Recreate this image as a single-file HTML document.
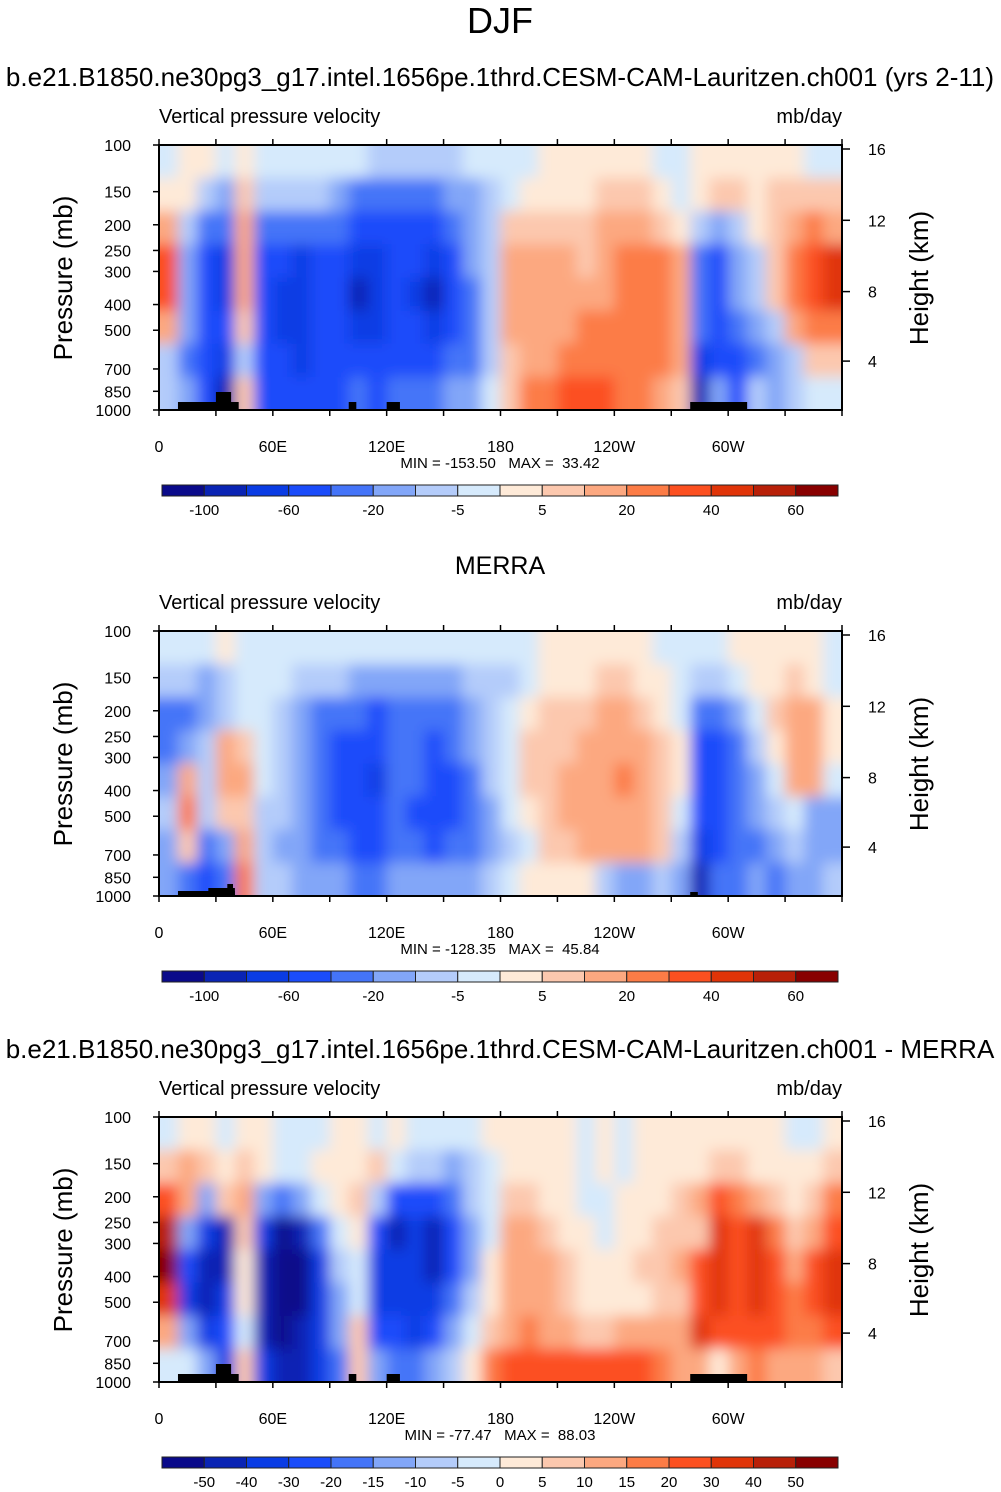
<!DOCTYPE html>
<html><head><meta charset="utf-8"><style>
html,body{margin:0;padding:0;background:#fff;}
svg{display:block;font-family:"Liberation Sans",sans-serif;}
</style></head><body>
<svg id="fig" width="1001" height="1492" xmlns="http://www.w3.org/2000/svg">
<defs>
<filter id="blur" filterUnits="userSpaceOnUse" x="0" y="0" width="1001" height="1492"><feGaussianBlur stdDeviation="7"/></filter>
</defs>
<text x="500" y="33" font-size="36" text-anchor="middle">DJF</text>
<text x="500" y="86" font-size="26" text-anchor="middle">b.e21.B1850.ne30pg3_g17.intel.1656pe.1thrd.CESM-CAM-Lauritzen.ch001 (yrs 2-11)</text>
<text x="500" y="574" font-size="25" text-anchor="middle">MERRA</text>
<text x="500" y="1058" font-size="26" text-anchor="middle">b.e21.B1850.ne30pg3_g17.intel.1656pe.1thrd.CESM-CAM-Lauritzen.ch001 - MERRA</text>
</svg>
<script>
// ---- data ----
const lonLabels = ["0","60E","120E","180","120W","60W"];
const pressureTicks = [100,150,200,250,300,400,500,700,850,1000];
const heightTicks = [16,12,8,4];
const levelsAbs = [-100,-80,-60,-40,-20,-10,-5,0,5,10,20,30,40,50,60];
const levelsDiff = [-50,-40,-30,-20,-15,-10,-5,0,5,10,15,20,30,40,50];
const cbLabelsAbs = ["-100","","-60","","-20","","-5","","5","","20","","40","","60"];
const cbLabelsDiff = ["-50","-40","-30","-20","-15","-10","-5","0","5","10","15","20","30","40","50"];
const colors = ["#0a0a8a","#0a24b4","#0a3ce4","#1a4cfa","#4474f8","#82a6f8","#b4ccfa","#d6eafc","#feead8","#fcc8ae","#fca880","#fc7c46","#fc5020","#e03408","#b82008","#880000"];
const model = [
[-2,2,2,-2,2,-2,-2,-2,-2,-2,-2,-7,-7,-7,-7,-7,-2,-2,-2,-2,2,2,2,2,2,2,-2,-2,2,2,2,2,2,2,-2,-2],
[2,2,-7,-15,7,-7,-7,-7,-7,-15,-30,-30,-30,-30,-30,-15,-15,-7,-2,2,2,2,2,7,7,7,2,-2,2,7,7,2,7,7,7,7],
[15,-7,-30,-30,15,-30,-30,-30,-30,-30,-50,-50,-50,-50,-50,-30,-15,-7,7,7,7,7,7,15,15,15,7,2,-7,-15,-7,2,7,15,25,15],
[35,-15,-50,-70,15,-50,-50,-70,-50,-50,-70,-70,-50,-50,-70,-50,-15,-7,15,15,15,15,7,15,25,25,25,15,-30,-50,-15,-7,7,25,35,45],
[35,-15,-50,-70,15,-50,-70,-70,-50,-50,-90,-70,-50,-70,-90,-50,-30,-7,15,15,15,15,15,15,25,25,25,15,-30,-50,-15,-7,7,25,35,45],
[15,-15,-50,-50,7,-50,-70,-70,-50,-50,-70,-70,-50,-50,-70,-50,-30,-7,15,15,15,15,25,25,25,25,25,15,-30,-50,-30,-15,-7,15,25,25],
[-7,-30,-50,-70,-7,-50,-50,-70,-50,-50,-50,-50,-50,-50,-50,-30,-30,-7,7,15,15,25,25,25,25,25,25,15,-70,-50,-50,-30,-15,-7,7,7],
[-7,-15,-50,-90,7,-50,-50,-50,-50,-50,-30,-50,-30,-30,-30,-15,-15,-2,7,25,25,35,35,35,25,25,15,7,-90,-15,-50,-7,-15,-7,-2,-2]];
const merra = [
[-2,-2,-2,2,-2,-2,-2,-2,-2,-2,-2,-2,-2,-2,-2,-2,-2,-2,-2,-2,2,2,2,2,2,2,-2,-2,-2,-2,2,2,2,2,2,-2],
[-7,-7,-15,-7,-2,-2,-2,-7,-7,-7,-15,-15,-15,-15,-15,-15,-7,-7,-7,-2,2,2,2,7,7,2,2,-2,-7,-7,-2,2,2,7,2,-2],
[-30,-30,-15,-7,-2,-2,-7,-15,-30,-30,-30,-50,-30,-30,-30,-30,-15,-7,-2,2,7,7,7,15,15,7,2,-2,-30,-30,-15,-2,7,15,15,2],
[-30,-15,-7,15,7,-2,-7,-15,-30,-50,-50,-50,-30,-30,-50,-30,-15,-7,-2,7,7,7,15,15,15,15,7,2,-50,-50,-30,-7,2,15,15,2],
[-15,15,-7,15,15,-2,-7,-15,-30,-50,-50,-70,-30,-30,-50,-50,-30,-7,-2,7,7,15,15,15,25,15,7,2,-50,-50,-30,-15,-2,15,15,-2],
[-7,25,-7,7,7,-7,-7,-15,-30,-50,-50,-50,-30,-50,-50,-50,-30,-15,-2,2,7,15,15,15,15,15,7,-2,-50,-50,-30,-15,-7,-2,-15,-15],
[-15,7,-30,-15,15,-7,-15,-15,-30,-30,-50,-50,-30,-30,-50,-30,-30,-15,-7,-2,7,7,15,15,15,15,7,-7,-70,-50,-30,-30,-15,-7,-15,-15],
[-15,-30,-50,-30,25,-7,-7,-15,-15,-15,-30,-30,-15,-15,-15,-15,-15,-7,-2,2,2,2,2,-7,-15,-15,-7,-15,-90,-30,-30,-15,-30,-15,-15,-7]];
const diff = [
[-2,2,2,-2,2,2,-2,-2,-2,2,2,-2,2,-2,-2,-2,-2,2,2,2,2,2,-2,2,-2,2,2,2,2,2,2,2,2,-2,-2,2],
[7,12,7,2,7,2,-2,-2,2,2,2,7,-2,-7,-7,-12,-7,-2,2,2,2,2,-2,2,-2,2,2,2,2,7,7,2,2,2,2,7],
[25,12,-12,7,12,-12,-17,-12,-2,2,7,-7,-25,-25,-25,-17,-7,-2,7,7,2,2,-2,-2,2,2,2,7,12,25,17,12,7,2,7,17],
[45,-12,-35,-45,7,-35,-60,-45,-17,-2,2,-25,-45,-35,-45,-25,-12,-2,12,12,7,2,2,-2,2,2,7,7,7,35,25,35,17,7,12,25],
[55,-25,-45,-45,2,-45,-60,-60,-35,-7,-2,-35,-35,-35,-45,-25,-12,2,12,12,12,7,2,2,2,7,7,12,25,35,25,35,25,12,25,35],
[35,-35,-45,-35,2,-45,-60,-60,-35,-12,-2,-35,-35,-35,-35,-17,-7,2,12,12,12,7,2,2,2,2,7,7,25,35,25,35,25,17,25,35],
[12,-12,-35,-25,-2,-45,-60,-45,-35,-12,7,-25,-25,-35,-25,-12,-2,7,12,17,12,12,7,7,12,12,12,12,35,25,25,25,25,17,17,25],
[-2,-2,-12,-35,7,-35,-45,-45,-35,-17,7,-12,-17,-17,-12,-7,2,17,25,25,25,25,25,25,25,25,17,12,12,2,12,17,12,12,12,7]];
const statsModel = ["-153.50","33.42"];
const statsMerra = ["-128.35","45.84"];
const statsDiff = ["-77.47","88.03"];

// ---- drawing ----
const NS="http://www.w3.org/2000/svg";
const svg=document.getElementById('fig');
function el(tag,attrs,parent){const e=document.createElementNS(NS,tag);for(const k in attrs)e.setAttribute(k,attrs[k]);(parent||svg).appendChild(e);return e;}
const X0=159,X1=842,H=265;
function xLon(l){return X0+(l/360)*(X1-X0);}
function colorFor(v,lev){let i=0;while(i<lev.length&&v>=lev[i])i++;return colors[i];}

function panel(off,grid,lev,stats,cbLabels,terrain,idx){
  const Y0=145+off,Y1=Y0+H;
  const yP=p=>Y0+Math.log10(p/100)*H;
  const yH=h=>Y0+4+(16-h)/4*(71.3) - (h<8? (8-h)*0.45:0);
  const clipId='clip'+idx;
  const cp=el('clipPath',{id:clipId});el('rect',{x:X0,y:Y0,width:X1-X0,height:H},cp);
  const g=el('g',{'clip-path':`url(#${clipId})`});
  
  
  const gb=el('g',{filter:'url(#blur)'},g);
  const nr=grid.length,nc=grid[0].length;
  const cw=(X1-X0)/nc,ch=H/nr;
  for(let r=0;r<nr;r++)for(let c=0;c<nc;c++){
    let x=X0+c*cw,y=Y0+r*ch,w=cw+0.6,h=ch+0.6;
    if(c===0){x-=20;w+=20;} if(c===nc-1){w+=20;}
    if(r===0){y-=20;h+=20;} if(r===nr-1){h+=20;}
    const rc=el('rect',{x:x,y:y,width:w,height:h,fill:colorFor(grid[r][c],lev)},gb);
    
    
  }
  for(const t of terrain){
    const tr=el('rect',{x:xLon(t[0]),y:Y1-t[2],width:xLon(t[1])-xLon(t[0]),height:t[2],fill:'#000'});
    
    
  }
  const fr=el('rect',{x:X0,y:Y0,width:X1-X0,height:H,fill:'none',stroke:'#000','stroke-width':2});
  
  
  for(let l=0;l<=360;l+=30){
    const x=xLon(l);
    el('line',{x1:x,x2:x,y1:Y0,y2:Y0-6,stroke:'#000','stroke-width':1.5});
    el('line',{x1:x,x2:x,y1:Y1,y2:Y1+6,stroke:'#000','stroke-width':1.5});
  }
  lonLabels.forEach((s,i)=>{
    const t=el('text',{x:xLon(i*60),y:Y1+42,'font-size':16,'text-anchor':'middle'});t.textContent=s;
    
    
  });
  pressureTicks.forEach(p=>{
    const y=yP(p);
    el('line',{x1:X0,x2:X0-6,y1:y,y2:y,stroke:'#000','stroke-width':1.5});
    const t=el('text',{x:131,y:y+6,'font-size':16,'text-anchor':'end'});t.textContent=p;
    
    
  });
  heightTicks.forEach(h=>{
    const y=yH(h);
    el('line',{x1:X1,x2:X1+8,y1:y,y2:y,stroke:'#000','stroke-width':1.5});
    const t=el('text',{x:868,y:y+6,'font-size':16});t.textContent=h;
    
    
  });
  const vt=el('text',{x:159,y:Y0-22,'font-size':20});vt.textContent='Vertical pressure velocity';
  
  
  const ut=el('text',{x:842,y:Y0-22,'font-size':20,'text-anchor':'end'});ut.textContent='mb/day';
  
  
  const yl=el('text',{x:0,y:0,'font-size':26,'text-anchor':'middle',transform:`translate(72,${Y0+133}) rotate(-90)`});yl.textContent='Pressure (mb)';
  
  
  const yr=el('text',{x:0,y:0,'font-size':26,'text-anchor':'middle',transform:`translate(928,${Y0+133}) rotate(-90)`});yr.textContent='Height (km)';
  
  
  const mm=el('text',{x:500,y:Y1+58,'font-size':15,'text-anchor':'middle','xml:space':'preserve'});mm.style.whiteSpace='pre';mm.textContent='MIN = '+stats[0]+'   MAX =  '+stats[1];
  
  
  const cbY=Y1+75,cbX=162,cbW=676,bw=cbW/16;
  for(let i=0;i<16;i++){
    const b=el('rect',{x:cbX+i*bw,y:cbY,width:bw,height:11,fill:colors[i],stroke:'#222','stroke-width':1});
    
    
  }
  cbLabels.forEach((s,i)=>{
    if(!s)return;
    const t=el('text',{x:cbX+(i+1)*bw,y:cbY+30,'font-size':15,'text-anchor':'middle'});t.textContent=s;
    
    
  });
}
const terrainModel=[[10,42,8],[30,38,18],[100,104,8],[120,127,8],[280,310,8]];
const terrainMerra=[[10,40,5],[26,40,8],[36,39,12],[280,284,4]];
panel(0,model,levelsAbs,statsModel,cbLabelsAbs,terrainModel,1);
panel(486,merra,levelsAbs,statsMerra,cbLabelsAbs,terrainMerra,2);
panel(972,diff,levelsDiff,statsDiff,cbLabelsDiff,terrainModel,3);
</script>
</body></html>
